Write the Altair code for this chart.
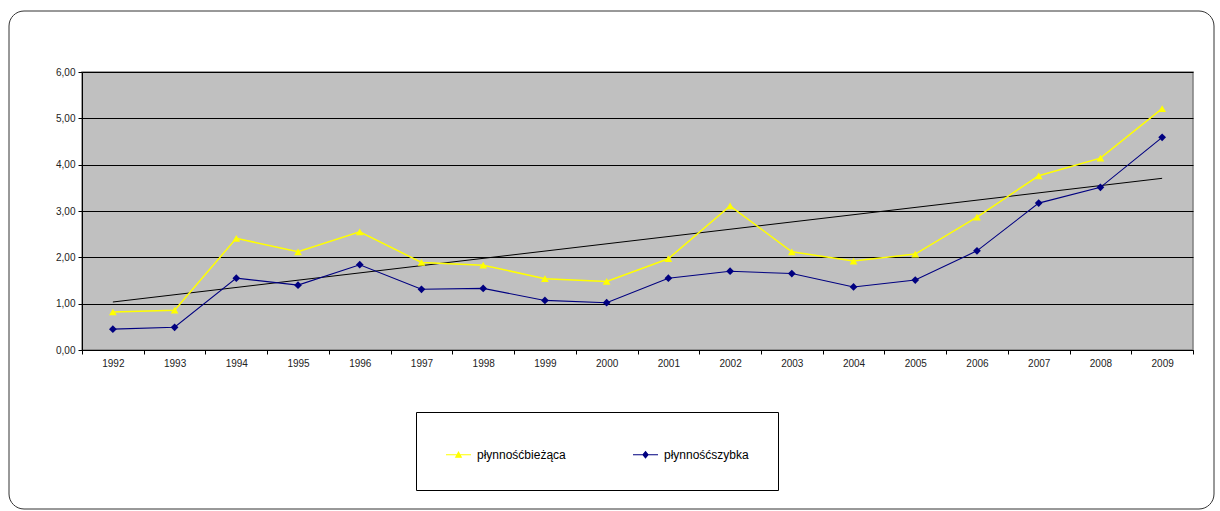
import altair as alt
import pandas as pd

years = list(range(1992, 2010))
biezaca = [0.82, 0.86, 2.41, 2.12, 2.55, 1.89, 1.83, 1.54, 1.48, 1.97, 3.11, 2.12, 1.92, 2.07, 2.87, 3.76, 4.14, 5.21]
szybka = [0.45, 0.49, 1.55, 1.40, 1.84, 1.31, 1.33, 1.07, 1.02, 1.55, 1.70, 1.65, 1.36, 1.51, 2.14, 3.17, 3.51, 4.59]
s1 = "płynnośćbieżąca"
s2 = "płynnośćszybka"
y_ticks = [0, 1, 2, 3, 4, 5, 6]

rows = []
for yr, a, b in zip(years, biezaca, szybka):
    rows.append({"year": yr, "series": s1, "value": a})
    rows.append({"year": yr, "series": s2, "value": b})
df = pd.DataFrame(rows)

YELLOW = "#FFFF00"
NAVY = "#000080"
FONT = "Liberation Sans"

x_enc = alt.X(
    "year:O",
    scale=alt.Scale(type="band", paddingInner=0, paddingOuter=0),
    bandPosition=0.5,
    axis=alt.Axis(
        title=None, labelAngle=0, tickBand="extent", tickSize=4, tickColor="#000000",
        domainColor="#000000", labelFontSize=10, labelColor="#222222", labelPadding=4,
        labelFont=FONT, grid=False,
    ),
)
y_enc = alt.Y(
    "value:Q",
    scale=alt.Scale(domain=[0, 6], nice=False),
    axis=alt.Axis(
        title=None, values=y_ticks, tickSize=4, tickColor="#000000", domainColor="#000000",
        gridColor="#000000", gridWidth=1, grid=True,
        labelExpr="replace(format(datum.value, '.2f'), '.', ',')",
        labelFontSize=10, labelColor="#222222", labelPadding=3, labelFont=FONT,
    ),
)

base = alt.Chart(df)

def series_layers(name, col, shape, lw):
    sub = base.transform_filter(alt.datum.series == name)
    ln = sub.mark_line(color=col, strokeWidth=lw).encode(x=x_enc, y=y_enc)
    pt = sub.mark_point(color=col, filled=True, size=60, opacity=1, shape=shape).encode(x=x_enc, y=y_enc)
    return [ln, pt]

trend = base.transform_filter(
    alt.datum.series == s1
).transform_regression("year", "value", method="linear").mark_line(
    color="#000000", strokeWidth=1
).encode(x=x_enc, y=y_enc)

# legend-only layer (no rows survive the filter; domains are explicit)
tri = "M-1,0L1,0M-0.22,0.2L0,-0.2L0.22,0.2Z"
dia = "M-1,0L1,0M0,-0.24L0.2,0L0,0.24L-0.2,0Z"
dom = [s1, s2]
legend = alt.Legend(
    title=None, orient="none", legendX=334, legendY=340, direction="horizontal",
    strokeColor="#000000", fillColor="#ffffff", padding=29, cornerRadius=0,
    labelFontSize=12, labelFont=FONT, labelColor="#000000", labelOffset=5,
    columnPadding=64, symbolSize=625, symbolStrokeWidth=1.2,
)
legend_layer = base.transform_filter(alt.datum.value < -100).mark_point(
    filled=True, opacity=1
).encode(
    x=x_enc, y=y_enc,
    fill=alt.Fill("series:N", scale=alt.Scale(domain=dom, range=[YELLOW, NAVY]), legend=legend),
    stroke=alt.Stroke("series:N", scale=alt.Scale(domain=dom, range=[YELLOW, NAVY]), legend=legend),
    shape=alt.Shape("series:N", scale=alt.Scale(domain=dom, range=[tri, dia]), legend=legend),
)

frame = alt.Chart(pd.DataFrame({"k": [0]})).mark_rect(
    fill=None, stroke="#333333", strokeWidth=1, cornerRadius=15
).encode(
    x=alt.value(-73), x2=alt.value(1132), y=alt.value(-61), y2=alt.value(437)
)

chart = alt.layer(
    frame, trend,
    *series_layers(s1, YELLOW, "triangle-up", 1.5),
    *series_layers(s2, NAVY, "diamond", 1.1),
    legend_layer,
).properties(
    width=1111, height=278,
    padding={"left": 8, "top": 10, "right": 0, "bottom": 0},
).configure(
    background="#ffffff"
).configure_view(
    fill="#C0C0C0", stroke="#808080", strokeWidth=1.5
)

chart.save("out.html", embed_options={"renderer": "svg", "actions": False})
